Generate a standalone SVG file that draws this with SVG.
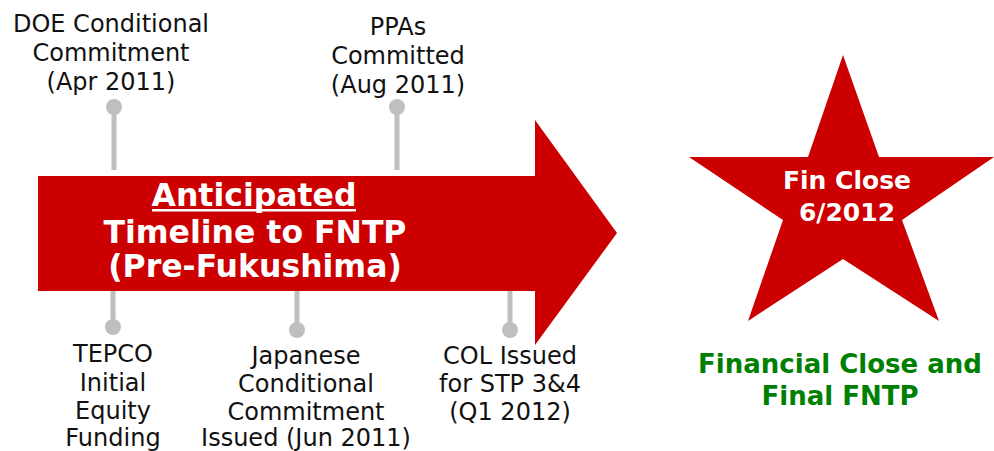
<svg xmlns="http://www.w3.org/2000/svg" width="994" height="451" viewBox="0 0 994 451">
<style>
.lbl{font-family:"DejaVu Sans","Verdana",sans-serif;font-size:24px;fill:#111;text-anchor:middle}
.arrowtxt{font-family:"DejaVu Sans","Verdana",sans-serif;font-size:31.5px;font-weight:bold;fill:#fff;text-anchor:middle}
.startxt{font-family:"DejaVu Sans","Verdana",sans-serif;font-size:25px;font-weight:bold;fill:#fff;text-anchor:middle}
.green{font-family:"DejaVu Sans","Verdana",sans-serif;font-size:26px;font-weight:bold;fill:#008000;text-anchor:middle}
.stem{stroke:#BFBFBF;stroke-width:5;fill:none}
.dot{fill:#BFBFBF}
</style>
<rect width="994" height="451" fill="#fff"/>
<g id="connectors">
<line class="stem" x1="114" y1="107" x2="114" y2="170"/>
<circle class="dot" cx="114" cy="107" r="8"/>
<line class="stem" x1="397" y1="107" x2="397" y2="170"/>
<circle class="dot" cx="397" cy="107" r="8"/>
<line class="stem" x1="113" y1="291" x2="113" y2="327"/>
<circle class="dot" cx="113" cy="327" r="8"/>
<line class="stem" x1="297" y1="291" x2="297" y2="330"/>
<circle class="dot" cx="297" cy="330" r="8"/>
<line class="stem" x1="510" y1="291" x2="510" y2="330"/>
<circle class="dot" cx="510" cy="330" r="8"/>
</g>
<g id="arrow">
<polygon points="38,176 535,176 535,120 617,233 535,345 535,291 38,291" fill="#CC0000"/>
<text class="arrowtxt" x="254" y="206">Anticipated</text>
<rect x="152" y="209" width="204" height="2.5" fill="#fff"/>
<text class="arrowtxt" x="255" y="243">Timeline to FNTP</text>
<text class="arrowtxt" x="255" y="277">(Pre-Fukushima)</text>
</g>
<g id="doe">
<text class="lbl" x="111" y="32">DOE Conditional</text>
<text class="lbl" x="111" y="61">Commitment</text>
<text class="lbl" x="111" y="90">(Apr 2011)</text>
</g>
<g id="ppas">
<text class="lbl" x="398" y="35">PPAs</text>
<text class="lbl" x="398" y="64">Committed</text>
<text class="lbl" x="398" y="93">(Aug 2011)</text>
</g>
<g id="tepco">
<text class="lbl" x="113" y="362">TEPCO</text>
<text class="lbl" x="113" y="391">Initial</text>
<text class="lbl" x="113" y="419">Equity</text>
<text class="lbl" x="113" y="446">Funding</text>
</g>
<g id="japanese">
<text class="lbl" x="306" y="364">Japanese</text>
<text class="lbl" x="306" y="392">Conditional</text>
<text class="lbl" x="306" y="420">Commitment</text>
<text class="lbl" x="306" y="446">Issued (Jun 2011)</text>
</g>
<g id="col">
<text class="lbl" x="510" y="364">COL Issued</text>
<text class="lbl" x="510" y="392">for STP 3&amp;4</text>
<text class="lbl" x="510" y="420">(Q1 2012)</text>
</g>
<g id="star">
<polygon points="843,55 879,157 994,157 902,220 939,321 843,259 748,321 783,220 689,157 808,157" fill="#CC0000"/>
<text class="startxt" x="847" y="189">Fin Close</text>
<text class="startxt" x="847" y="221">6/2012</text>
</g>
<g id="final">
<text class="green" x="840" y="373">Financial Close and</text>
<text class="green" x="840" y="405">Final FNTP</text>
</g>
</svg>
